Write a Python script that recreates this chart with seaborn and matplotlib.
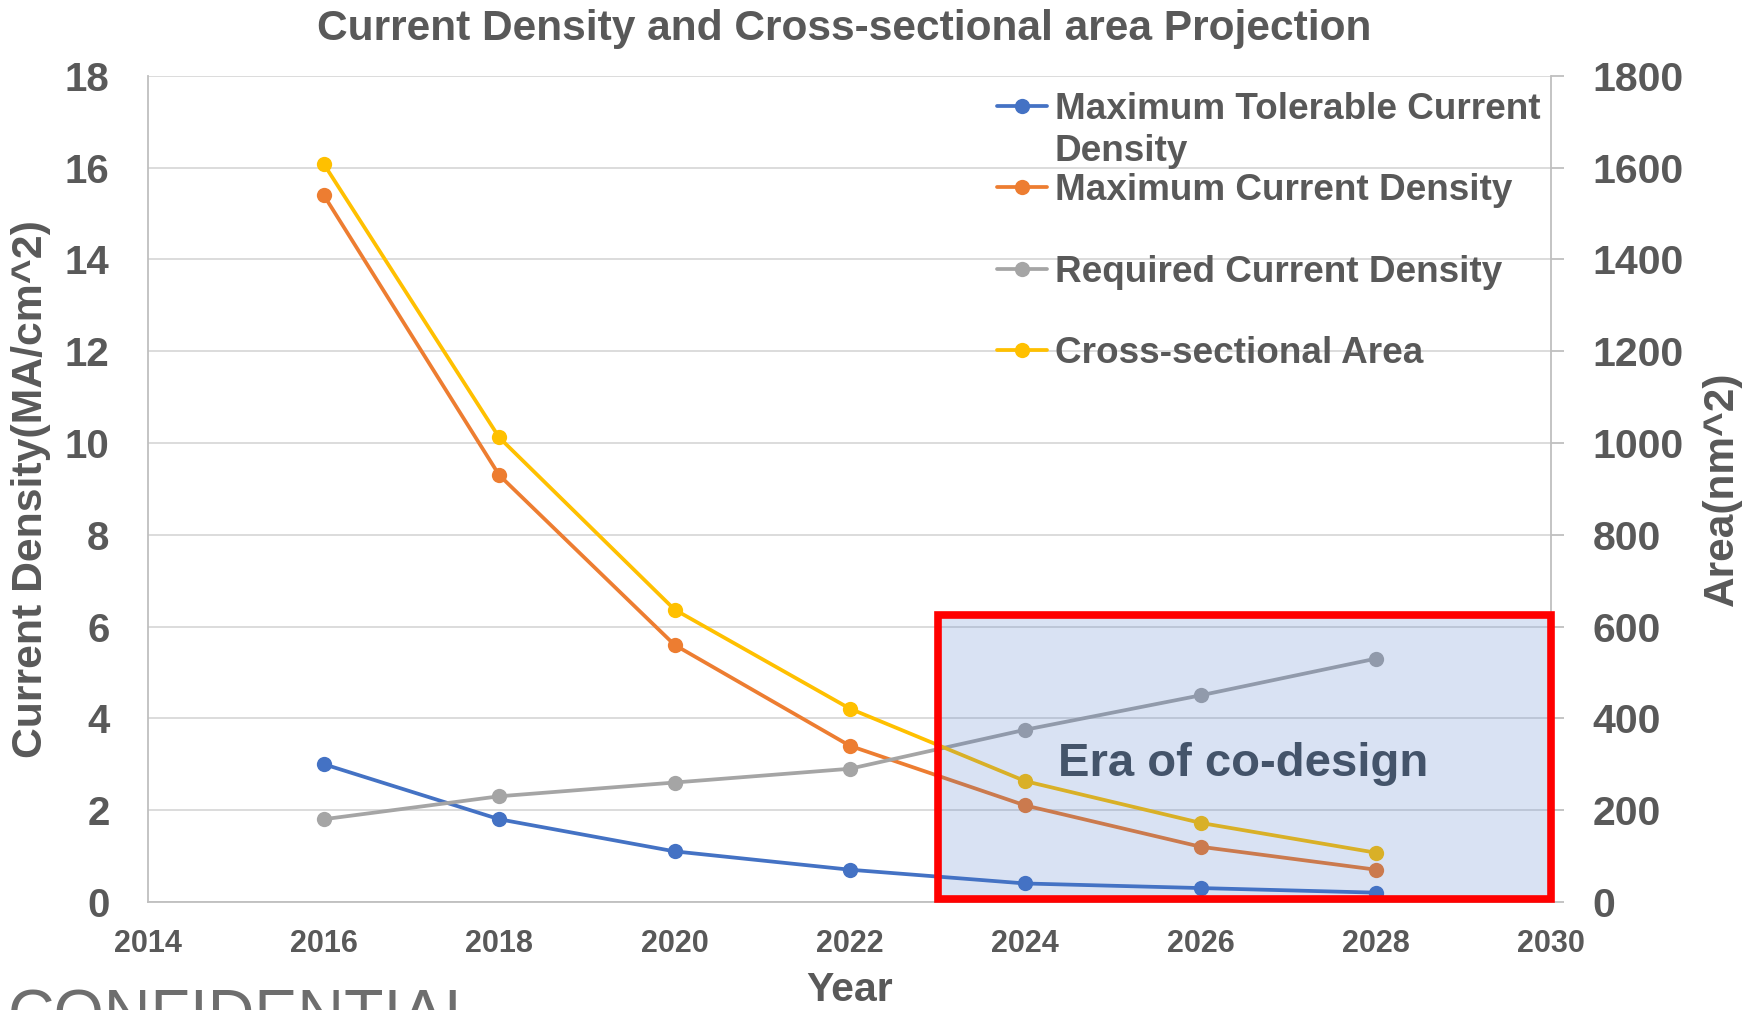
import matplotlib
matplotlib.use("Agg")
import matplotlib.pyplot as plt
from matplotlib.lines import Line2D
from matplotlib.patches import Rectangle
import pandas as pd
import seaborn as sns

# data
years = [2016, 2018, 2020, 2022, 2024, 2026, 2028]
max_tolerable = [3.0, 1.8, 1.1, 0.7, 0.4, 0.3, 0.2]
max_current = [15.4, 9.3, 5.6, 3.4, 2.1, 1.2, 0.7]
required = [1.8, 2.3, 2.6, 2.9, 3.75, 4.5, 5.3]
area = [1608, 1012, 637, 421, 263, 172, 107]

series_names = ["Maximum Tolerable Current\nDensity", "Maximum Current Density",
                "Required Current Density", "Cross-sectional Area"]
series_colors = ["#4472C4", "#ED7D31", "#A5A5A5", "#FFC000"]

x_ticks = list(range(2014, 2031, 2))
y_ticks = list(range(0, 19, 2))
area_ticks = list(range(0, 1801, 200))

codesign_years = (2023, 2030)
codesign_density = (0.07, 6.24)
codesign_label = "Era of co-design"

TEXT = "#595959"
GRID = "#D9D9D9"
SPINE = "#BFBFBF"
LW = 2.7
MS = 11

sns.set_style("white")
plt.rcParams["font.family"] = ["Liberation Sans", "DejaVu Sans"]
plt.rcParams["font.weight"] = "bold"
plt.rcParams["axes.labelweight"] = "bold"

fig = plt.figure(figsize=(17.5, 10.1), dpi=100)
ax = fig.add_axes([0.0848, 0.1071, 0.8865 - 0.0848, 0.9249 - 0.1071])
ax2 = ax.twinx()

# left axis: current densities
df = pd.DataFrame({
    "Year": years * 3,
    "value": max_tolerable + max_current + required,
    "series": [series_names[0]] * 7 + [series_names[1]] * 7 + [series_names[2]] * 7,
})
sns.lineplot(data=df, x="Year", y="value", hue="series", hue_order=series_names[:3],
             palette=series_colors[:3], marker="o", markersize=MS, linewidth=LW,
             markeredgewidth=0, legend=False, ax=ax)

# right axis: area
sns.lineplot(x=years, y=area, color=series_colors[3], marker="o", markersize=MS,
             linewidth=LW, markeredgewidth=0, legend=False, ax=ax2)

ax.set_xlim(x_ticks[0], x_ticks[-1])
ax.set_ylim(y_ticks[0], y_ticks[-1])
ax2.set_ylim(area_ticks[0], area_ticks[-1])
ax.set_xticks(x_ticks)
ax.set_yticks(y_ticks)
ax2.set_yticks(area_ticks)

ax.yaxis.grid(True, color=GRID, linewidth=1.3)
ax.xaxis.grid(False)
ax.set_axisbelow(True)

for s in ["top", "right"]:
    ax.spines[s].set_visible(False)
for s in ["left", "bottom"]:
    ax.spines[s].set_color(SPINE)
    ax.spines[s].set_linewidth(1.3)
for s in ["top", "left", "bottom"]:
    ax2.spines[s].set_visible(False)
ax2.spines["right"].set_color(SPINE)
ax2.spines["right"].set_linewidth(1.3)

ax.tick_params(axis="y", length=0, pad=28, labelsize=29, labelcolor=TEXT)
ax.tick_params(axis="x", length=0, pad=19.5, labelsize=22, labelcolor=TEXT)
ax2.tick_params(axis="y", length=9.5, width=1.3, color=SPINE, pad=20,
                labelsize=29.5, labelcolor=TEXT)

ax.set_xlabel("Year", fontsize=29.5, color=TEXT, va="top")
ax.xaxis.set_label_coords(0.5, -0.084)
ax.set_ylabel("Current Density(MA/cm^2)", fontsize=30.8, color=TEXT)
ax.yaxis.set_label_coords(-0.0694, 0.5)
ax2.set_ylabel("Area(nm^2)", fontsize=30.5, color=TEXT)
ax2.yaxis.set_label_coords(1.1073, 0.5)

fig.text(0.4826, 0.960, "Current Density and Cross-sectional area Projection",
         fontsize=30.6, color=TEXT, ha="center", va="baseline")

# co-design region, drawn on top of the series
scale = area_ticks[-1] / y_ticks[-1]
box = Rectangle((codesign_years[0], codesign_density[0] * scale),
                codesign_years[1] - codesign_years[0],
                (codesign_density[1] - codesign_density[0]) * scale,
                facecolor=(0x44 / 255, 0x72 / 255, 0xC4 / 255, 0.2),
                edgecolor="#FF0000", linewidth=5.5, zorder=5, clip_on=False)
ax2.add_patch(box)
ax2.text(2026.48, 2.74 * scale, codesign_label, fontsize=34, color="#44546A",
         ha="center", va="baseline", zorder=6)

# legend, laid out like the Excel one (handle beside the first text line)
leg_rows = [0.9635, 0.8649, 0.7662, 0.6677]
cap_half = 0.0157
line_step = 0.0513
for name, color, yc in zip(series_names, series_colors, leg_rows):
    ax2.add_line(Line2D([0.6046, 0.6225, 0.6404], [yc, yc, yc], transform=ax2.transAxes,
                        color=color, linewidth=LW, marker="o", markersize=MS,
                        markeredgewidth=0, markevery=[1], clip_on=False))
    for i, part in enumerate(name.split("\n")):
        ax2.text(0.646, yc - cap_half - i * line_step, part, transform=ax2.transAxes,
                 fontsize=26.6, color=TEXT, ha="left", va="baseline")

# footer stamp, cut by the bottom edge as in the source slide
fig.text(8 / 1750, 1 - 1036 / 1010, "CONFIDENTIAL", fontsize=46.5, fontweight="normal",
         color="#6E6E6E", ha="left", va="baseline")

fig.savefig("out.png", dpi=100)
plt.close(fig)
